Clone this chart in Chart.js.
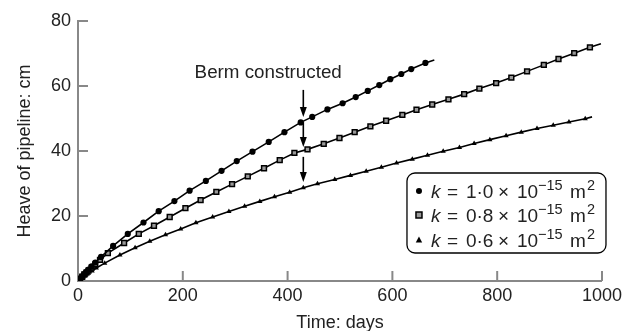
<!DOCTYPE html>
<html>
<head>
<meta charset="utf-8">
<script src="https://cdn.jsdelivr.net/npm/chart.js@4.4.1/dist/chart.umd.min.js"></script>
<style>
html,body{margin:0;padding:0;background:#fff;}
#wrap{width:626px;height:331px;position:relative;}
</style>
</head>
<body>
<div id="wrap"><canvas id="c" width="626" height="331"></canvas></div>
<script>
// ---- data ----
const days1  = [0,4,8,12,16,20,26,33,44,67,95,125,154,184,213,244,274,303,333,364,394,425,447,476,505,530,553,575,596,617,636,663,680];
const heave1 = [0,0.7,1.4,2.1,2.8,3.5,4.5,5.7,7.4,10.8,14.5,18,21.5,24.6,27.8,30.8,33.9,36.9,39.8,42.8,45.8,48.8,50.5,52.8,54.7,56.6,58.5,60.3,62.1,63.7,65.2,67.1,68];

const days2  = [0,4,8,12,16,20,26,33,42,57,88,116,145,175,205,234,264,294,324,355,385,413,438,469,499,528,558,588,619,646,676,707,737,766,798,827,857,889,917,947,977,998];
const heave2 = [0,0.7,1.3,2,2.6,3.2,4.1,5.1,6.5,8.6,11.7,14.5,17,19.7,22.4,24.9,27.4,29.8,32.2,34.7,37.2,39.4,40.5,42.2,44,45.8,47.6,49.3,51.1,52.7,54.3,55.9,57.5,59.2,60.9,62.6,64.5,66.5,68.3,70.1,71.9,73];

const days3  = [0,5,10,15,20,27,35,51,80,109,137,167,196,225,257,288,318,347,375,404,430,457,490,520,550,579,608,638,667,697,728,756,786,817,846,876,907,937,968,981];
const heave3 = [0,0.6,1.2,1.8,2.4,3.1,4,5.5,8,10.2,12.2,14.2,16,17.9,19.7,21.4,23,24.5,25.9,27.3,28.7,29.9,31.2,32.5,33.8,35,36.3,37.5,38.7,39.9,41.1,42.3,43.5,44.7,45.8,46.9,47.9,48.9,49.9,50.5];

const seriesLabels = ['1·0', '0·8', '0·6'];
const xTicks = [0,200,400,600,800,1000];
const yTicks = [0,20,40,60,80];
const bermDay = 430;
const bermText = 'Berm constructed';
const bermArrows = [[58.8,50.5],[48.9,41.2],[38.2,30.5]];
const bermTextAt = [363, 64];

const FONT = "'Liberation Sans', Arial, Helvetica, sans-serif";

function pts(xs, ys){ return xs.map((x,i)=>({x:x,y:ys[i]})); }
function radii(n, r){ const a = new Array(n).fill(r); a[n-1] = 0; return a; }

const datasets = [
  {label:'k1', data:pts(days1,heave1), borderColor:'#000', borderWidth:1.6, pointStyle:'circle',
   pointRadius:radii(days1.length,3.1), pointBackgroundColor:'#000', pointBorderColor:'#000', pointBorderWidth:0},
  {label:'k2', data:pts(days2,heave2), borderColor:'#000', borderWidth:1.6, pointStyle:'rect',
   pointRadius:radii(days2.length,3.4), pointBackgroundColor:'#999', pointBorderColor:'#000', pointBorderWidth:1.5},
  {label:'k3', data:pts(days3,heave3), borderColor:'#000', borderWidth:1.6, pointStyle:'triangle',
   pointRadius:radii(days3.length,3), pointBackgroundColor:'#000', pointBorderColor:'#000', pointBorderWidth:0}
];

const decor = {
  id:'decor',
  afterDraw(chart){
    const ctx = chart.ctx, xs = chart.scales.x, ys = chart.scales.y, ca = chart.chartArea;
    ctx.save();
    // inward ticks
    ctx.strokeStyle = '#888'; ctx.lineWidth = 2;
    xTicks.forEach(v=>{ if(v===0) return; const px = xs.getPixelForValue(v);
      ctx.beginPath(); ctx.moveTo(px, ca.bottom); ctx.lineTo(px, ca.bottom-10); ctx.stroke(); });
    yTicks.forEach(v=>{ if(v===0) return; const py = ys.getPixelForValue(v);
      ctx.beginPath(); ctx.moveTo(ca.left, py); ctx.lineTo(ca.left+10, py); ctx.stroke(); });
    // berm arrows
    const ax = xs.getPixelForValue(bermDay);
    ctx.strokeStyle = '#000'; ctx.fillStyle = '#000'; ctx.lineWidth = 1.6;
    bermArrows.forEach(([a,b])=>{
      const y0 = ys.getPixelForValue(a), y1 = ys.getPixelForValue(b);
      ctx.beginPath(); ctx.moveTo(ax, y0); ctx.lineTo(ax, y1-6); ctx.stroke();
      ctx.beginPath(); ctx.moveTo(ax-3.5, y1-10); ctx.lineTo(ax+3.5, y1-10); ctx.lineTo(ax, y1); ctx.closePath(); ctx.fill();
    });
    // berm text
    ctx.font = '18.8px ' + FONT; ctx.fillStyle = '#222'; ctx.textAlign = 'center'; ctx.textBaseline = 'middle';
    ctx.fillText(bermText, xs.getPixelForValue(bermTextAt[0]), ys.getPixelForValue(bermTextAt[1]));
    // legend box
    const bx = ca.right - 195, by = ca.top + 152, bw = 199, bh = 80, r = 8;
    ctx.strokeStyle = '#000'; ctx.lineWidth = 1.3;
    ctx.beginPath();
    ctx.roundRect(bx, by, bw, bh, r);
    ctx.fillStyle = '#fff'; ctx.fill(); ctx.stroke();
    const rows = [by+18, by+42, by+67];
    rows.forEach((ry,i)=>{
      const mx = bx + 12;
      ctx.fillStyle = '#000'; ctx.strokeStyle = '#000';
      if(i===0){ ctx.beginPath(); ctx.arc(mx, ry, 3, 0, Math.PI*2); ctx.fill(); }
      else if(i===1){ ctx.fillStyle = '#999'; ctx.fillRect(mx-3,ry-3,6,6); ctx.lineWidth = 1.5; ctx.strokeRect(mx-3,ry-3,6,6); }
      else { ctx.beginPath(); ctx.moveTo(mx-3.2, ry+2.5); ctx.lineTo(mx+3.2, ry+2.5); ctx.lineTo(mx, ry-3.5); ctx.closePath(); ctx.fill(); }
      const base = ry + 6.5;
      ctx.textAlign = 'left'; ctx.textBaseline = 'alphabetic'; ctx.fillStyle = '#222';
      const put = (t, font, off, dy)=>{ ctx.font = font; ctx.fillText(t, bx + off, base + dy); };
      put('k', 'italic 19px ' + FONT, 24, 0);
      put('=', '19px ' + FONT, 40, 0);
      put(seriesLabels[i], '19px ' + FONT, 59, 0);
      put('×', '19px ' + FONT, 91, 0);
      put('10', '19px ' + FONT, 110, 0);
      put('−15', '14.5px ' + FONT, 131, -8);
      put('m', '19px ' + FONT, 163, 0);
      put('2', '14.5px ' + FONT, 180, -8);
    });
    ctx.restore();
  }
};

new Chart(document.getElementById('c'), {
  type:'line',
  data:{datasets:datasets},
  plugins:[decor],
  options:{
    responsive:false, animation:false, events:[],
    layout:{padding:{top:21, right:23, left:0, bottom:0}},
    plugins:{legend:{display:false}, tooltip:{enabled:false}},
    elements:{line:{tension:0}},
    scales:{
      x:{type:'linear', min:0, max:1000,
        afterBuildTicks(s){ s.ticks = xTicks.map(v=>({value:v})); },
        afterFit(s){ s.height = 50; },
        grid:{display:false, drawTicks:false, tickLength:0},
        border:{display:true, color:'#888', width:2},
        ticks:{padding:4, color:'#222', font:{family:FONT, size:18}, maxRotation:0, autoSkip:false, callback:v=>String(v)},
        title:{display:true, text:'Time: days', color:'#222', font:{family:FONT, size:18, lineHeight:1}, padding:{top:0,bottom:-1}}
      },
      y:{type:'linear', min:0, max:80,
        afterBuildTicks(s){ s.ticks = yTicks.map(v=>({value:v})); },
        afterFit(s){ s.width = 78; },
        grid:{display:false, drawTicks:false, tickLength:0},
        border:{display:true, color:'#888', width:2},
        ticks:{padding:7, color:'#222', font:{family:FONT, size:18}, autoSkip:false, callback:v=>String(v)},
        title:{display:true, text:'Heave of pipeline: cm', color:'#222', font:{family:FONT, size:18, lineHeight:1}, padding:{top:16,bottom:0}}
      }
    }
  }
});
</script>
</body>
</html>
